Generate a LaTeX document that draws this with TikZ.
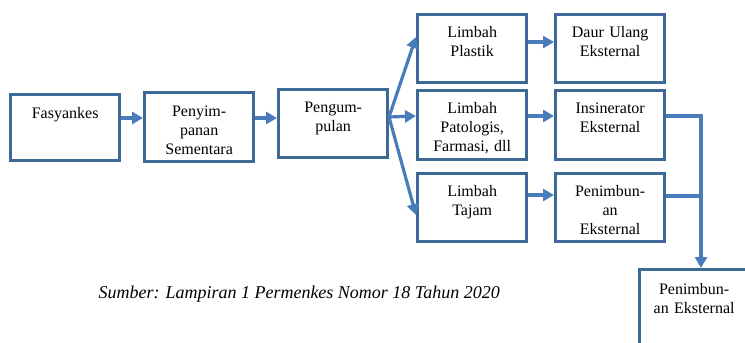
\documentclass[tikz,border=0pt]{standalone}
\usepackage{fontspec}
\setmainfont{Liberation Serif}
\usetikzlibrary{arrows.meta}
\definecolor{garis}{RGB}{60,105,150}
\definecolor{panahbiru}{RGB}{72,124,186}

\begin{document}
\begin{tikzpicture}[x=1pt,y=-1pt,
    kotak/.style={draw=garis, line width=3.3pt, anchor=north west, inner sep=0pt,
      minimum width=109pt, text width=106pt, align=center,
      font=\fontsize{16}{18.8}\selectfont, text height=23pt, text depth=45pt},
    panah/.style={draw=panahbiru, line width=3.2pt, -{Triangle[length=11pt,width=12pt]}},
    garisbiru/.style={draw=panahbiru, line width=3.2pt}]
  \useasboundingbox (0,0) rectangle (745,343);
  \clip (0,0) rectangle (745,343);
  \draw
    (9,93) node[kotak, text height=24pt, text depth=42pt] (fas) {Fasyankes}
    (143,91) node[kotak, text height=24pt, text depth=45pt] (simpan) {Penyim-\\panan\\Sementara}
    (277,88) node[kotak] (kumpul) {Pengum-\\pulan}
    (416,13) node[kotak] (plastik) {Limbah\\Plastik}
    (416,89) node[kotak, text depth=46pt] (patologis) {Limbah\\Patologis,\\Farmasi, dll}
    (416,172) node[kotak] (tajam) {Limbah\\Tajam}
    (554,13) node[kotak] (daur) {Daur Ulang\\Eksternal}
    (554,89) node[kotak, text depth=46pt] (insin) {Insinerator\\Eksternal}
    (554,172) node[kotak] (timbun) {Penimbun-\\an\\Eksternal}
    (638,268) node[kotak, text height=25pt, text depth=74pt] (akhir) {Penimbun-\\an Eksternal};
  \node[anchor=base west, font=\itshape\fontsize{18}{21}\selectfont] (sumber) at (95,298)
    {Sumber: Lampiran 1 Permenkes Nomor 18 Tahun 2020};
  \coordinate (cabang) at (389,117);
  \coordinate (sambung) at (701,196);
  \begin{scope}[panah]
    \draw (fas.east |- 0,118) to (simpan.west |- 0,118);
    \draw (simpan.east |- 0,118) to (kumpul.west |- 0,118);
    \draw (cabang) to (plastik.west |- 0,37);
    \draw (cabang) to (patologis.west |- 0,116);
    \draw (cabang) to (tajam.west |- 0,215);
    \draw (plastik.east |- 0,42) to (daur.west |- 0,42);
    \draw (patologis.east |- 0,116) to (insin.west |- 0,116);
    \draw (tajam.east |- 0,195) to (timbun.west |- 0,195);
    \draw (insin.east |- 0,116) -| (sambung) to (akhir.north -| sambung);
  \end{scope}
  \draw[garisbiru] (kumpul.east |- cabang) to (cabang);
  \draw[garisbiru] (timbun.east |- sambung) to (sambung);
\end{tikzpicture}
\end{document}
